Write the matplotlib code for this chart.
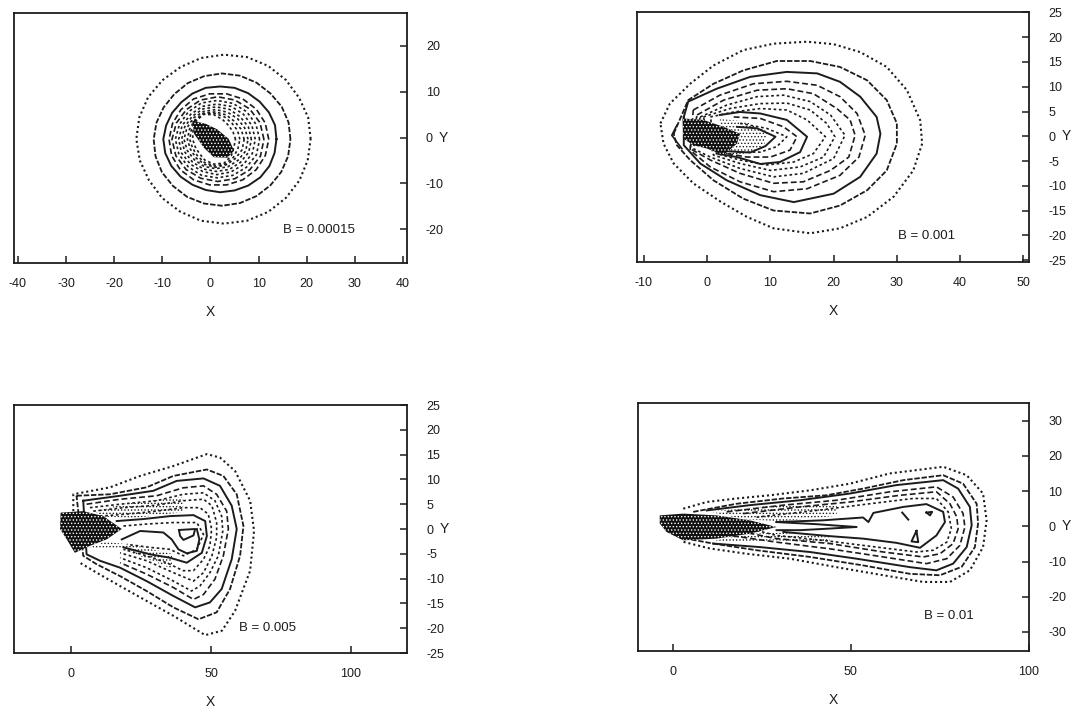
import numpy as np
import matplotlib
matplotlib.use('Agg')
import matplotlib.pyplot as plt

plt.rcParams['font.family'] = ['Liberation Sans', 'DejaVu Sans']
plt.rcParams['axes.unicode_minus'] = False
plt.rcParams['hatch.linewidth'] = 0.6

INK = '#1c1c1c'

# B = 0.00015, rings read as radii at even angles around a centre
b1_cx = [2.8, 2.4, 2.0, 1.6, 1.5, 1.4, 1.3, 1.2, 1.1, 1.0, 0.9, 0.7]
b1_cy = [-0.3, -0.4, -0.35, -0.4, -0.4, -0.4, -0.4, -0.4, -0.4, -0.4, -0.4, -0.4]
b1_r = [
    [18.0, 18.1, 18.0, 18.2, 18.4, 18.5, 18.4, 18.3, 18.1, 18.1, 18.2, 18.2, 18.2, 18.1, 18.0, 18.2, 18.3, 18.5, 18.5, 18.5, 18.4, 18.2, 18.1, 18.0],
    [14.2, 14.3, 14.3, 14.2, 14.3, 14.4, 14.4, 14.3, 14.2, 14.0, 14.0, 14.1, 14.2, 14.3, 14.4, 14.4, 14.5, 14.5, 14.5, 14.4, 14.3, 14.2, 14.2, 14.2],
    [11.7, 11.8, 11.7, 11.6, 11.6, 11.6, 11.5, 11.6, 11.5, 11.4, 11.5, 11.6, 11.8, 11.8, 11.7, 11.6, 11.5, 11.5, 11.6, 11.6, 11.7, 11.8, 11.8, 11.7],
    [10.5, 10.4, 10.3, 10.2, 10.1, 10.1, 10.2, 10.1, 10.1, 10.2, 10.3, 10.3, 10.2, 10.1, 10.1, 10.2, 10.3, 10.4],
    [9.6, 9.5, 9.4, 9.3, 9.3, 9.3, 9.2, 9.3, 9.5, 9.4, 9.3, 9.2, 9.2, 9.3, 9.4, 9.6],
    [8.8, 8.7, 8.6, 8.5, 8.5, 8.6, 8.5, 8.5, 8.7, 8.6, 8.5, 8.5, 8.4, 8.5, 8.6, 8.8],
    [8.0, 7.9, 7.8, 7.8, 7.7, 7.8, 7.7, 7.8, 7.9, 7.9, 7.7, 7.6, 7.7, 7.7, 7.8, 8.0],
    [7.3, 7.2, 7.0, 7.1, 7.1, 7.2, 7.1, 7.1, 7.2, 7.1, 7.0, 7.0, 7.0, 7.1, 7.1, 7.3],
    [6.7, 6.5, 6.4, 6.4, 6.5, 6.6, 6.6, 6.5, 6.6, 6.4, 6.3, 6.4, 6.4, 6.5, 6.5, 6.7],
    [6.0, 5.8, 5.6, 5.8, 6.0, 6.2, 6.0, 5.8, 5.8, 5.6, 5.7, 5.9, 6.1, 6.0, 5.9, 6.0],
    [5.2, 5.1, 5.0, 5.3, 5.7, 6.0, 5.7, 5.3, 5.2, 5.0, 5.1, 5.5, 5.8, 5.8, 5.5, 5.2],
    [4.5, 4.3, 4.3, 4.7, 5.4, 5.9, 5.4, 4.7, 4.4, 4.2, 4.3, 4.9, 5.4, 5.6, 5.1, 4.5],
]
b1_styles = ['dot', 'dense', 'solid', 'dash', 'dash', 'fine', 'fine', 'fine', 'fine', 'fine', 'fine', 'fine']
b1_core_x = [-3.8, -1, 1.4, 3.8, 4.9, 3.5, 0.7, -1.4, -3.4]
b1_core_y = [3.7, 3, 1.8, -0.3, -2.9, -4.4, -4.3, -2.2, 0.8]

# B = 0.001
b2_x = [
    [-7.4, -5.9, -2.7, 1.0, 5.7, 10.5, 15.8, 20.0, 24.2, 28.4, 31.6, 33.7, 34, 32.6, 29.5, 25.3, 21.0, 16.3, 10.5, 6.3, 2.1, -2.2, -5.3, -6.9],
    [-5.3, -3.0, 1, 5.7, 11, 16.3, 21, 25.3, 28.4, 30, 30, 28.4, 25.3, 21, 16.3, 10.5, 5.7, 1, -2.7, -4.8],
    [-3.7, -3, 1.5, 6.8, 12.6, 17.4, 21, 24.2, 26.8, 27.4, 26.8, 24.2, 20, 13.7, 8.4, 3.1, -1.1, -3.7],
    [-2.2, 2.0, 7.3, 12.6, 17.4, 21, 23.7, 25, 24, 21, 15.8, 10.5, 5.2, 0.5, -2.7],
    [-1.6, 2.6, 7.9, 12.6, 16.8, 20.5, 22.6, 23.4, 22.4, 19.5, 15.2, 10.5, 5.2, 0.5, -2.7],
    [-1.1, 3.1, 7.9, 12.1, 16.3, 19.5, 21.8, 20, 15.2, 10.5, 5.2, 0.5, -2.2],
    [-0.6, 3.6, 8.4, 12.6, 16.3, 18.9, 20.2, 18.4, 14.7, 10, 5.2, 1.0],
    [0.5, 4.2, 8.4, 12.6, 15.8, 18.7, 16.8, 13.7, 9.4, 5.2, 1.5],
    [2, 5.2, 8.4, 12.6, 15.8, 14.7, 11.5, 8.4, 4.7, 1.5],
    [4.2, 8.4, 12.1, 14.2, 13.1, 10, 6.3, 3.1],
    [5.2, 9.4, 12.6, 11, 8.4, 4.7],
    [4.7, 7.9, 10.8, 9.2, 6.8, 3],
]
b2_y = [
    [2.6, 6.6, 10.6, 14.3, 17.4, 18.7, 19.1, 18.6, 17.0, 14.0, 9.3, 3.2, -1.5, -6.9, -12.2, -16.3, -18.6, -19.6, -18.6, -16.3, -13.2, -9.5, -5.5, -1.5],
    [0.5, 7.3, 10.6, 13.3, 15.2, 15.2, 14, 11.3, 7.3, 2.6, -1.5, -6.9, -10.9, -14, -15.6, -15, -12.6, -8.9, -4.8, -1.8],
    [3.9, 7, 9.6, 12, 13, 12.7, 11, 8, 3.9, 0.5, -3.5, -8.2, -11.6, -13.3, -11.9, -8.9, -5.5, -1.8],
    [5.3, 8.3, 10.6, 11.1, 10.3, 8, 4.6, 0.2, -4.2, -7.9, -10.6, -11.2, -9.2, -6.2, -2.8],
    [4.3, 7.3, 9.3, 9.6, 8.6, 5.6, 3.3, 0.2, -4.2, -6.9, -9.2, -9.5, -7.5, -4.8, -2.5],
    [3.9, 6.3, 8, 8.3, 7, 4.3, 0.2, -4.5, -7.5, -8.2, -6.5, -4.2, -2.5],
    [3.9, 5.6, 6.6, 6.7, 5.3, 2.6, -0.1, -4.2, -6.2, -6.9, -5.5, -3.8],
    [3.9, 4.9, 5.6, 5.3, 3.3, -0.1, -3.5, -5.2, -5.8, -4.8, -3.5],
    [4.3, 4.9, 4.6, 3.3, -0.1, -3.2, -5.2, -5.6, -4.2, -3.5],
    [3.9, 3.6, 1.9, -0.1, -2.8, -4.2, -4.2, -3.5],
    [2.6, 1.6, -0.1, -2.1, -3.2, -3.2],
    [1.9, 1.6, -0.1, -2, -3.3, -3],
]
b2_styles = ['dot', 'dense', 'solid', 'dash', 'dash', 'fine', 'fine', 'fine', 'solid', 'dash', 'fine', 'solid']
b2_closed = [True, True, True, True, True, True, True, True, False, False, False, False]
b2_core_x = [-3.9, -0.6, 2.6, 5.2, 4.7, 2.6, 0, -2.2, -3.75]
b2_core_y = [3.6, 3.3, 1.9, 0.5, -1.5, -3.8, -2.5, -1.8, -0.5]
b2_tail_x = [[2, 6, 9.5, 9, 6, 2]]
b2_tail_y = [[3.5, 3, 1, -2, -3.5, -3.8]]
b2_open_x = [[-4.8, -5.6, -4]]
b2_open_y = [[2.2, 0.2, -2.5]]

# B = 0.005
b3_x = [
    [0.65, 0.65, 13.8, 24.6, 36.5, 48.5, 53.2, 58.6, 64, 65.4, 64, 58.6, 53.9, 47.9, 36.5, 26.9, 17.4, 9, 3],
    [1.8, 13.8, 26.9, 36.5, 48.5, 54.4, 59.2, 61.6, 60.4, 56.8, 52, 45.5, 36.5, 26.9, 17.4, 9, 4.2],
    [4.2, 17.4, 29.3, 37.7, 47.3, 53.2, 57.4, 59.2, 57.4, 53.8, 49.6, 44.3, 36.5, 26.9, 17.4, 10.2, 5.4],
    [5.4, 17.4, 30.5, 40, 47.3, 52, 55.6, 56.2, 54.4, 51.4, 47.3, 43.7, 36.5, 26.9, 17.4],
    [6.6, 17.4, 30.5, 40, 47.3, 51.4, 53.8, 54.2, 52.6, 49.6, 46, 43, 36.5, 26.9, 17.4],
    [7.8, 18.6, 30.5, 40, 47.3, 50.3, 52, 52, 50.3, 47.3, 43.7, 36.5, 26.9, 17.4],
    [10.2, 19.8, 30.5, 40, 46, 49, 50.2, 49.6, 47.3, 43.7, 40, 34.1, 26.9, 18.6],
    [16.2, 25.7, 35.3, 43.7, 47.9, 48.5, 46.7, 41.3, 35.3, 28.1, 18.6],
    [18.6, 26.9, 36.5, 44.9, 47.3, 44.9, 40.1, 35.3, 28.1, 19.8],
    [38.5, 44.3, 43.7, 40.1, 38.9],
]
b3_y = [
    [3.6, 7, 8.4, 10.7, 12.7, 15.1, 14.4, 11.7, 5.7, -0.4, -8.4, -16.5, -20.5, -21.4, -17.5, -14.5, -11.5, -8.8, -6.8],
    [6.7, 7, 8.4, 10.7, 12, 10.7, 7, 0.6, -5.4, -12.1, -16.8, -18.2, -15.8, -12.5, -9.5, -7.1, -5.4],
    [5.7, 6.7, 7.7, 9.7, 10.2, 8.7, 4.7, 0, -6.1, -12.1, -14.8, -15.8, -13.5, -10.5, -7.8, -6.4, -5.1],
    [5, 6, 6.7, 8.3, 8.7, 7, 3.6, 0, -5.4, -10.1, -13.2, -14.2, -11.8, -9.1, -6.8],
    [4.3, 5, 5.7, 7, 7.3, 5.7, 2.6, -0.4, -5.4, -8.8, -11.5, -12.5, -10.5, -7.8, -5.8],
    [3.6, 4.3, 4.8, 5.7, 6, 4.7, 1.3, -1.7, -5.4, -8.8, -10.5, -8.8, -6.4, -4.8],
    [2.6, 3, 3.6, 4.3, 4.3, 3, 0, -3.4, -6.1, -8.4, -8.4, -6.8, -5.4, -4.1],
    [1.6, 2, 2.6, 2.8, 1.6, -1.4, -4.8, -6.8, -5.8, -5.1, -3.7],
    [0.6, 1, 1.3, 1.3, -1.1, -4.1, -5.4, -4.1, -3.7, -3.1],
    [-0.2, 0, -1.3, -2.2, -1.4],
]
b3_styles = ['dot', 'dense', 'solid', 'dash', 'fine', 'fine', 'fine', 'solid', 'fine', 'solid']
b3_closed = [False, True, True, False, False, False, False, False, False, True]
b3_core_x = [-3.9, 4.2, 11.4, 18, 12.6, 6.6, 1.2, -1.7, -4.1]
b3_core_y = [3.3, 3.6, 2.6, 0, -2.1, -3.4, -4.8, -2.1, 0]
b3_tail_x = [[8, 18, 40, 40, 22, 12], [6, 18, 36, 36, 22, 12]]
b3_tail_y = [[3.5, 5, 6.5, 3.4, 2.2, 2.5], [-3.8, -4, -8, -5, -3.2, -2.6]]
b3_open_x = [[18, 24.6, 32.9, 35.9, 38.3, 41.3, 44.9, 45.8, 44.9]]
b3_open_y = [[-2.1, -0.4, -0.7, -2.1, -4.1, -4.9, -4.4, -2.1, 0]]

# B = 0.01
b4_x = [
    [2.9, 9.5, 17.9, 27.2, 38.5, 49.7, 60.9, 75.9, 82.5, 87.1, 88.1, 87.1, 83.4, 77.8, 70.3, 59.1, 45.9, 32.9, 20.7, 10.4, 2.9],
    [5.7, 17.9, 31, 43.1, 53.4, 64.7, 75.9, 81.5, 85.3, 85.7, 84.8, 81.1, 75, 66.6, 53.4, 38.5, 23.5, 11.3, 3.8],
    [9.5, 21.6, 35.7, 49.7, 62.8, 75.9, 80.1, 83.4, 83.9, 82.5, 78.7, 74, 66.6, 51.6, 38.5, 24.4, 11.3],
    [15.1, 31, 46, 61, 74, 78.7, 81.5, 82, 80.6, 76.9, 71.2, 59.1, 44.1, 29.1, 16],
    [19.7, 35.7, 49.7, 63.7, 74, 77.8, 79.7, 80.1, 78.7, 75, 70.3, 59.1, 44.1, 29.1, 19.7],
    [23.5, 40.3, 55.3, 67.5, 74, 77.3, 78.2, 76.9, 73.1, 68.4, 57.2, 42.2, 29.1, 21.6],
    [29.1, 42.2, 53.4, 54.9, 56.3, 64.7, 71.2, 75.9, 76.4, 74, 69.4, 62.8, 53.4, 44.1, 31],
    [29.1, 40.3, 51.6, 43.1, 35.7, 29.1],
    [68.4, 67, 68.9],
    [71.2, 72.8, 72.2],
]
b4_y = [
    [5, 6.9, 7.9, 8.8, 10.2, 12.1, 15, 16.9, 14.5, 9.3, 1.7, -5.9, -12.5, -15.8, -15.8, -13.9, -11.6, -9.2, -7.8, -6.3, -4.4],
    [4.1, 6.4, 7.9, 8.8, 10.7, 13.1, 14.5, 12.1, 6.4, 0.8, -5.9, -11.5, -13.9, -13.5, -11.1, -8.7, -6.8, -4.9, -3.5],
    [4.5, 6, 7.4, 9.3, 11.7, 13.1, 10.7, 5.5, 0.3, -5.9, -10.6, -12.5, -11.6, -9.2, -7.3, -5.9, -4.9],
    [4.1, 6, 7.4, 9.8, 11.2, 8.3, 3.6, -0.2, -5.4, -9.2, -10.6, -8.7, -6.4, -4.5, -2.6],
    [3.6, 5.5, 6.9, 8.8, 9.8, 6.4, 2.7, -0.7, -4.9, -7.8, -8.7, -7.3, -4.9, -3.5, -1.6],
    [2.6, 4.5, 6.4, 7.9, 7.9, 4.1, -0.7, -4.5, -6.8, -7.3, -5.9, -4, -2.6, -0.7],
    [1.2, 1.7, 2.5, 1.2, 3.8, 5.5, 6.3, 4.1, 1.2, -2.6, -6.1, -4.7, -3.5, -2.8, -1.6],
    [1.2, 0.6, -0.2, -0.7, -1.1, -1.1],
    [-1.3, -4.3, -4.5],
    [3.9, 4.1, 3.1],
]
b4_styles = ['dot', 'dense', 'solid', 'dash', 'dash', 'fine', 'solid', 'solid', 'solid', 'solid']
b4_closed = [False, False, False, False, False, False, False, False, True, True]
b4_core_x = [-3.7, 2.9, 12.3, 21.6, 29.1, 21.6, 12.3, 2.9, -1.8, -3.7]
b4_core_y = [3.1, 3.6, 3.1, 1.7, -0.2, -2.1, -3.5, -4, -1.6, 0.8]
b4_tail_x = [[10, 30, 46, 46, 30, 20], [10, 29, 44, 44, 30, 20]]
b4_tail_y = [[4.2, 6, 6.5, 3, 1.4, 2], [-4.5, -4, -4.8, -3, -1.8, -2.2]]
b4_open_x = [[64.4, 66.1]]
b4_open_y = [[3.9, 1.9]]

LINE = {
    'dot': dict(ls=(0, (1, 1.4)), lw=1.5),
    'dense': dict(ls=(0, (3, 1)), lw=1.3),
    'solid': dict(ls='-', lw=1.4),
    'dash': dict(ls=(0, (3.5, 1.8)), lw=1.2),
    'fine': dict(ls=(0, (1.6, 1.6)), lw=1.2),
}


def make_axes(fig, left, top, right, bottom, xlim, ylim, xticks, yticks):
    ax = fig.add_axes([left / 1074, 1 - bottom / 711, (right - left) / 1074, (bottom - top) / 711])
    ax.set_xlim(xlim)
    ax.set_ylim(ylim)
    ax.set_xticks(xticks)
    ax.set_yticks(yticks)
    ax.tick_params(axis='x', direction='in', length=5, width=1.1, pad=10.5, labelsize=9, colors=INK)
    ax.tick_params(axis='y', direction='in', length=5, width=1.1, pad=14, labelsize=9, colors=INK,
                   left=False, right=True, labelleft=False, labelright=True)
    for lab in ax.get_yticklabels():
        lab.set_horizontalalignment('left')
    for sp in ax.spines.values():
        sp.set_linewidth(1.3)
        sp.set_color(INK)
    ax.set_xlabel('X', fontsize=10, color=INK, labelpad=11)
    ax.annotate('Y', xy=(1, 0), xycoords=ax.get_yaxis_transform(), xytext=(26.5, 0),
                textcoords='offset points', ha='center', va='center', fontsize=10, color=INK)
    return ax


def draw_core(ax, x, y):
    ax.fill(x, y, facecolor='#101010', edgecolor='white', hatch='.....', lw=0, zorder=3)


def draw_tails(ax, xs, ys):
    for x, y in zip(xs, ys):
        ax.fill(x, y, facecolor='none', edgecolor=INK, hatch='.....', lw=0, zorder=2)


def draw_rings(ax, xs, ys, styles, closed):
    for x, y, st, c in zip(xs, ys, styles, closed):
        if c:
            x = x + x[:1]
            y = y + y[:1]
        ax.plot(x, y, color=INK, **LINE[st])


fig = plt.figure(figsize=(10.74, 7.11), dpi=100)

# 1. top left
ax1 = make_axes(fig, 14, 13, 406.5, 263, (-40.8, 40.7), (-27.4, 27.2), range(-40, 41, 10), range(-20, 21, 10))
for cx, cy, r, st in zip(b1_cx, b1_cy, b1_r, b1_styles):
    angles = np.deg2rad(np.linspace(0, 360, len(r), endpoint=False))
    x = cx + np.array(r) * np.cos(angles)
    y = cy + np.array(r) * np.sin(angles)
    ax1.plot(np.append(x, x[0]), np.append(y, y[0]), color=INK, **LINE[st])
draw_core(ax1, b1_core_x, b1_core_y)
ax1.text(15, -20.2, 'B = 0.00015', fontsize=9.5, va='center', color=INK)

# 2. top right
ax2 = make_axes(fig, 637, 12, 1029, 262, (-11.1, 50.9), (-25.4, 25.1), range(-10, 51, 10), range(-25, 26, 5))
draw_tails(ax2, b2_tail_x, b2_tail_y)
draw_rings(ax2, b2_x, b2_y, b2_styles, b2_closed)
draw_core(ax2, b2_core_x, b2_core_y)
for x, y in zip(b2_open_x, b2_open_y):
    ax2.plot(x, y, color=INK, lw=1.2)
ax2.text(30.2, -20.2, 'B = 0.001', fontsize=9.5, va='center', color=INK)

# 3. bottom left
ax3 = make_axes(fig, 14, 405, 407, 653, (-20.6, 120.2), (-25, 25), [0, 50, 100], range(-25, 26, 5))
draw_tails(ax3, b3_tail_x, b3_tail_y)
draw_rings(ax3, b3_x, b3_y, b3_styles, b3_closed)
draw_core(ax3, b3_core_x, b3_core_y)
for x, y in zip(b3_open_x, b3_open_y):
    ax3.plot(x, y, color=INK, lw=1.4)
ax3.text(60, -20, 'B = 0.005', fontsize=9.5, va='center', color=INK)

# 4. bottom right
ax4 = make_axes(fig, 638, 403, 1029, 651, (-9.8, 100), (-35.4, 35), [0, 50, 100], range(-30, 31, 10))
draw_tails(ax4, b4_tail_x, b4_tail_y)
draw_rings(ax4, b4_x, b4_y, b4_styles, b4_closed)
draw_core(ax4, b4_core_x, b4_core_y)
for x, y in zip(b4_open_x, b4_open_y):
    ax4.plot(x, y, color=INK, lw=1.4)
ax4.text(70.5, -25.6, 'B = 0.01', fontsize=9.5, va='center', color=INK)

fig.savefig('out.png', dpi=100)
